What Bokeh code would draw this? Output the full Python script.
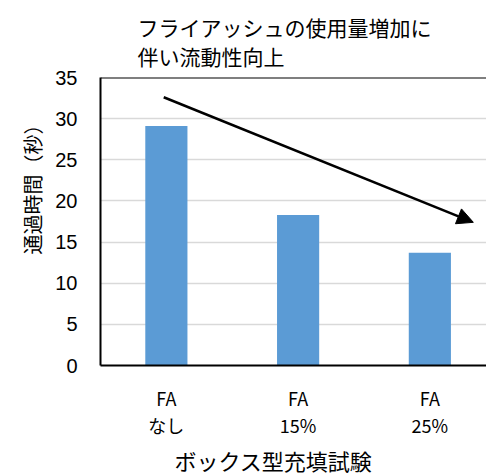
from bokeh.plotting import figure
from bokeh.models import Range1d, FixedTicker, Arrow, NormalHead, Span, Title
from bokeh.embed import file_html
from bokeh.resources import INLINE

# Box filling test: passing time by fly-ash content
categories = ["FA\nなし", "FA\n15%", "FA\n25%"]
passing_time = [29.1, 18.3, 13.7]
y_ticks = [0, 5, 10, 15, 20, 25, 30, 35]

# trend arrow endpoints (x in category units, y in seconds)
trend_start = (0.48, 32.6)
trend_end = (2.83, 17.4)

JP = "Noto Sans CJK JP"
xs = [i + 0.5 for i in range(len(categories))]

p = figure(
    width=486, height=475,
    x_range=Range1d(0, 2.93), y_range=Range1d(0, 35),
    output_backend="svg", toolbar_location=None,
    min_border_left=100, min_border_right=0,
    min_border_top=77, min_border_bottom=0,
    background_fill_color="white", border_fill_color="white",
    outline_line_color=None,
)

title = Title(
    text="フライアッシュの使用量増加に\n伴い流動性向上",
    align="left", offset=37,
    text_font=JP, text_font_size="21px", text_font_style="normal",
    text_color="black", text_line_height=0.98, standoff=12,
)
p.add_layout(title, "above")

p.vbar(x=xs, top=passing_time, width=0.32, color="#5b9bd5", line_color=None)

# axes
p.xaxis.ticker = FixedTicker(ticks=xs)
p.xaxis.major_label_overrides = {x: c for x, c in zip(xs, categories)}
p.xaxis.major_label_text_font = JP
p.xaxis.major_label_text_font_size = "18px"
p.xaxis.major_label_text_line_height = 1.07
p.xaxis.major_label_text_color = "black"
p.xaxis.major_label_standoff = 13

p.yaxis.ticker = FixedTicker(ticks=y_ticks)
p.yaxis.major_label_text_font = "Liberation Sans"
p.yaxis.major_label_text_font_size = "20px"
p.yaxis.major_label_text_color = "black"
p.yaxis.major_label_standoff = 17

for ax in (p.xaxis, p.yaxis):
    ax.axis_line_color = "black"
    ax.axis_line_width = 2
    ax.major_tick_line_color = None
    ax.minor_tick_line_color = None

# axis titles, placed off-centre along their axes
x_title = Title(
    text="ボックス型充填試験", align="left", offset=74,
    text_font=JP, text_font_size="22px", text_font_style="normal",
    text_color="black", text_line_height=0.8, standoff=0,
)
p.add_layout(x_title, "below")

y_title = Title(
    text="通過時間（秒）", align="left", offset=111,
    text_font=JP, text_font_size="20px", text_font_style="normal",
    text_color="black", standoff=12,
)
p.add_layout(y_title, "left")

p.xgrid.grid_line_color = None
p.ygrid.grid_line_color = "#d9d9d9"
p.ygrid.grid_line_width = 1.5

p.add_layout(Span(location=35, dimension="width", line_color="black", line_width=2))

p.add_layout(Arrow(
    x_start=trend_start[0], y_start=trend_start[1],
    x_end=trend_end[0], y_end=trend_end[1],
    line_color="black", line_width=2.5,
    end=NormalHead(size=16, fill_color="black", line_color="black"),
))

open("out.html", "w").write(file_html(p, INLINE))
